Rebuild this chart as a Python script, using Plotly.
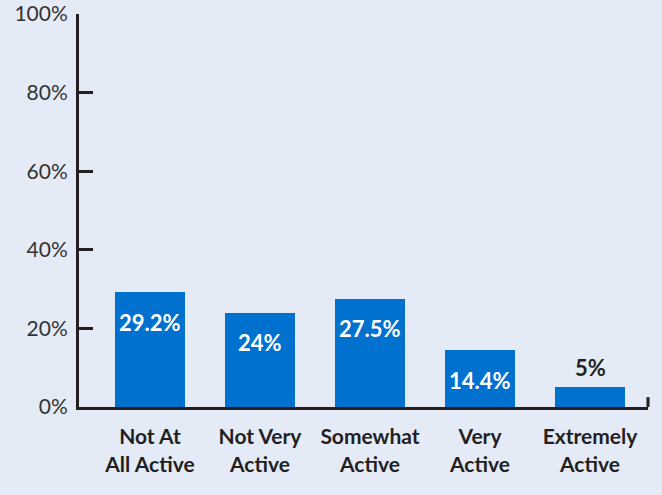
import plotly.graph_objects as go

categories = ["Not At<br>All Active", "Not Very<br>Active", "Somewhat<br>Active", "Very<br>Active", "Extremely<br>Active"]
values = [29.2, 24, 27.5, 14.4, 5]
value_labels = ["29.2%", "24%", "27.5%", "14.4%", "5%"]
y_ticks = [0, 20, 40, 60, 80, 100]

BG = "#E4EBF7"
BAR = "#0071CE"
INK = "#231F20"
FONT = "Lato"

fig = go.Figure(go.Bar(
    x=list(range(len(categories))),
    y=values,
    marker=dict(color=BAR, line=dict(width=0)),
    width=0.636,
    hoverinfo="skip",
))

# value labels: inside near the top of tall bars, above the short one
for i, (v, t) in enumerate(zip(values, value_labels)):
    inside = v >= 10
    fig.add_annotation(
        x=i, y=v, text=t, showarrow=False,
        xref="x", yref="y", yanchor="middle",
        yshift=-30 if inside else 20,
        font=dict(family=FONT, size=22, weight="bold", color="white" if inside else INK),
    )

# small end hook on the right of the baseline
fig.add_shape(type="line", xref="paper", yref="paper", x0=1, x1=1, y0=0, y1=0.025,
              line=dict(color=INK, width=3))

fig.update_layout(
    width=662, height=495,
    margin=dict(l=79, r=14, t=14, b=88),
    paper_bgcolor=BG, plot_bgcolor=BG,
    showlegend=False,
    bargap=0,
    xaxis=dict(
        range=[-0.645, 4.527],
        tickvals=list(range(len(categories))),
        ticktext=categories,
        tickfont=dict(family=FONT, size=21, weight="bold", color=INK),
        ticklabelstandoff=9,
        showline=True, linecolor=INK, linewidth=3,
        ticks="", showgrid=False, zeroline=False, fixedrange=True,
        automargin=False,
    ),
    yaxis=dict(
        range=[0, 100],
        tickvals=y_ticks,
        ticktext=[f"{t}%" for t in y_ticks],
        tickfont=dict(family=FONT, size=21, color="#333333"),
        ticklabelstandoff=4,
        showline=True, linecolor=INK, linewidth=3,
        ticks="inside", ticklen=14, tickwidth=3, tickcolor=INK,
        showgrid=False, zeroline=False, fixedrange=True,
        automargin=False,
    ),
)

fig.write_html("out.html")
